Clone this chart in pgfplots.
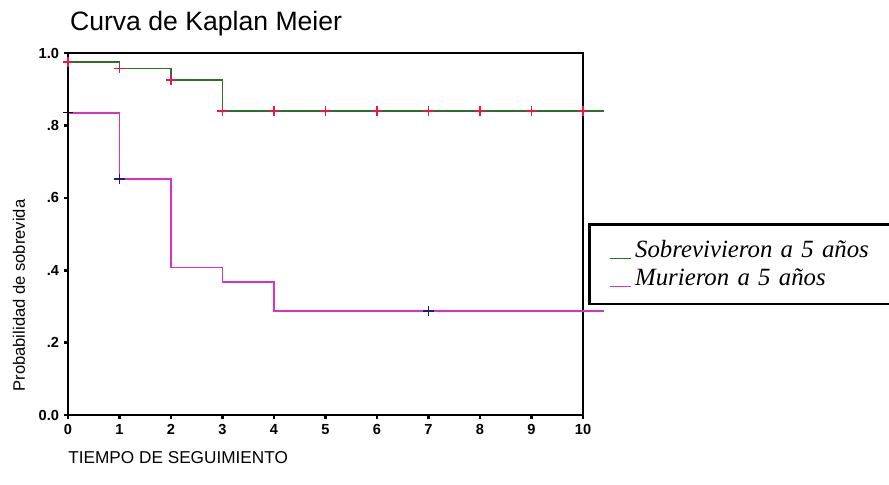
\documentclass[border=0pt]{standalone}
\usepackage{pgfplots}
\pgfplotsset{compat=1.18}
\usepackage{fontspec}
\setmainfont{Liberation Sans}
\newfontfamily\legfont{Liberation Serif}
\definecolor{kmgreen}{RGB}{45,110,45}
\definecolor{kmpink}{RGB}{215,50,200}
\definecolor{kmred}{RGB}{220,30,70}
\definecolor{kmblue}{RGB}{30,30,120}
\begin{document}
\begin{tikzpicture}
\begin{axis}[
  name=ax,
  width=257.5pt, height=181pt, scale only axis,
  xmin=0, xmax=10, ymin=0, ymax=1,
  clip=false,
  axis line style={line width=0.9pt},
  xtick={0,...,10}, ytick={0,0.2,0.4,0.6,0.8,1.0},
  yticklabels={0.0,.2,.4,.6,.8,1.0},
  tick align=outside, tick pos=left,
  major tick length=2pt,
  every tick/.style={black, line width=1.3pt},
  /pgf/number format/assume math mode=true,
  ticklabel style={font=\fontsize{7.3}{8}\selectfont\bfseries},
  xticklabel style={yshift=1pt},
  yticklabel style={xshift=1pt},
  title={Curva de Kaplan Meier},
  title style={font=\fontsize{13.3}{14}\selectfont, anchor=south west, at={(rel axis cs:0,1)}, yshift=-1pt, xshift=-2.5pt},
  ylabel={Probabilidad de sobrevida},
  ylabel style={font=\fontsize{8.3}{9}\selectfont, at={(rel axis cs:-0.0952,0.33)}, anchor=center},
  xlabel={TIEMPO DE SEGUIMIENTO},
  xlabel style={font=\fontsize{8.6}{9}\selectfont, anchor=north west, inner sep=0pt, at={(rel axis cs:0,0)}, yshift=-18pt},
  legend cell align=left,
  legend style={at={(rel axis cs:1.01,0.53)}, anchor=north west,
    draw=black, line width=1.2pt, font=\legfont\itshape\fontsize{12.4}{14}\selectfont,
    inner xsep=10pt, inner ysep=6pt, row sep=0pt,
    text width=160pt},
  legend image code/.code={\draw[#1, line width=0.4pt] (0pt,-3.8pt) -- (10.5pt,-3.8pt);},
]
\addplot[kmgreen, line width=0.7pt, const plot] coordinates {
 (0,0.975) (1,0.958) (2,0.925) (3,0.840) (10.4,0.840)};
\addlegendentry{Sobrevivieron a 5 años}
\addplot[kmpink, line width=0.8pt, const plot] coordinates {
 (0,0.835) (1,0.652) (2,0.408) (3,0.367) (4,0.287) (10.4,0.287)};
\addlegendentry{Murieron a 5 años}
\addplot[only marks, mark=+, mark size=2.6pt, kmred, line width=0.7pt, forget plot] coordinates {
 (0,0.975) (1,0.958) (2,0.925) (3,0.840) (4,0.840) (5,0.840) (6,0.840) (7,0.840) (8,0.840) (9,0.840) (10,0.840)};
\addplot[only marks, mark=+, mark size=2.6pt, kmblue, line width=0.7pt, forget plot] coordinates {
 (1,0.652) (7,0.287)};
\addplot[only marks, mark=+, mark size=2.6pt, black, line width=0.7pt, forget plot] coordinates {
 (0,0.835)};
\end{axis}
\pgfresetboundingbox
\path[use as bounding box] ([shift={(-34pt,-34.5pt)}]ax.south west) rectangle ([shift={(410.5pt,207.5pt)}]ax.south west);
\end{tikzpicture}
\end{document}
